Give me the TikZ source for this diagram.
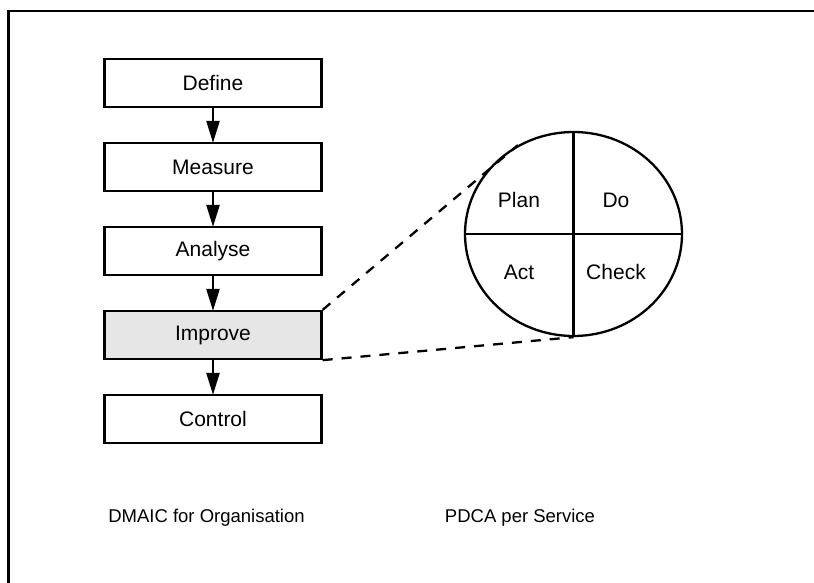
\documentclass[tikz,border=0pt]{standalone}
\usepackage{fontspec}
\setmainfont{Liberation Sans}
\usetikzlibrary{arrows.meta,shapes.geometric}

\tikzset{
  stepbox/.style={draw=black, line width=2.3pt, minimum width=217pt, minimum height=48pt,
    inner sep=0pt, font=\fontsize{21}{25}\selectfont},
  flow/.style={draw=black, line width=2.3pt, -{Triangle[width=13pt,length=22pt]}, shorten >=-1pt},
  zoomline/.style={draw=black, line width=2.3pt, dash pattern=on 10pt off 9pt},
  quad/.style={font=\fontsize{21}{25}\selectfont, inner sep=0pt},
  caption/.style={font=\fontsize{18.5}{22}\selectfont, inner sep=0pt},
}

\begin{document}
\begin{tikzpicture}[x=1pt,y=-1pt]
  \useasboundingbox (0,0) rectangle (814,583);

  % frame (top and left edges)
  \draw[line width=2.8pt] (8.5,590) -- (8.5,11) -- (820,11);

  % DMAIC chain
  \node[stepbox] (define)  at (213,83)  {Define};
  \node[stepbox] (measure) at (213,167) {Measure};
  \node[stepbox] (analyse) at (213,251) {Analyse};
  \node[stepbox, fill={rgb,255:red,230;green,230;blue,230}] (improve) at (213,335) {Improve};
  \node[stepbox] (control) at (213,419) {Control};

  \draw[flow] (define)  -- (measure);
  \draw[flow] (measure) -- (analyse);
  \draw[flow] (analyse) -- (improve);
  \draw[flow] (improve) -- (control);

  % PDCA circle
  \node[ellipse, draw=black, line width=2.3pt, minimum width=217pt, minimum height=204pt,
        inner sep=0pt] (pdca) at (573.5,234) {};
  \draw[line width=2.3pt] (pdca.north) -- (pdca.south);
  \draw[line width=2.3pt] (pdca.west) -- (pdca.east);

  \node[quad] (plan)  at (519,200) {Plan};
  \node[quad] (do)    at (616,200) {Do};
  \node[quad] (act)   at (519,272) {Act};
  \node[quad] (check) at (616,272) {Check};

  % zoom lines from Improve to the circle
  \draw[zoomline] (improve.north east) -- (pdca.122);
  \draw[zoomline] (improve.south east) -- (pdca.south);

  % captions
  \node[caption] (dmaiccap) at (206.5,518) {DMAIC for Organisation};
  \node[caption] (pdcacap)  at (520,518) {PDCA per Service};
\end{tikzpicture}
\end{document}
